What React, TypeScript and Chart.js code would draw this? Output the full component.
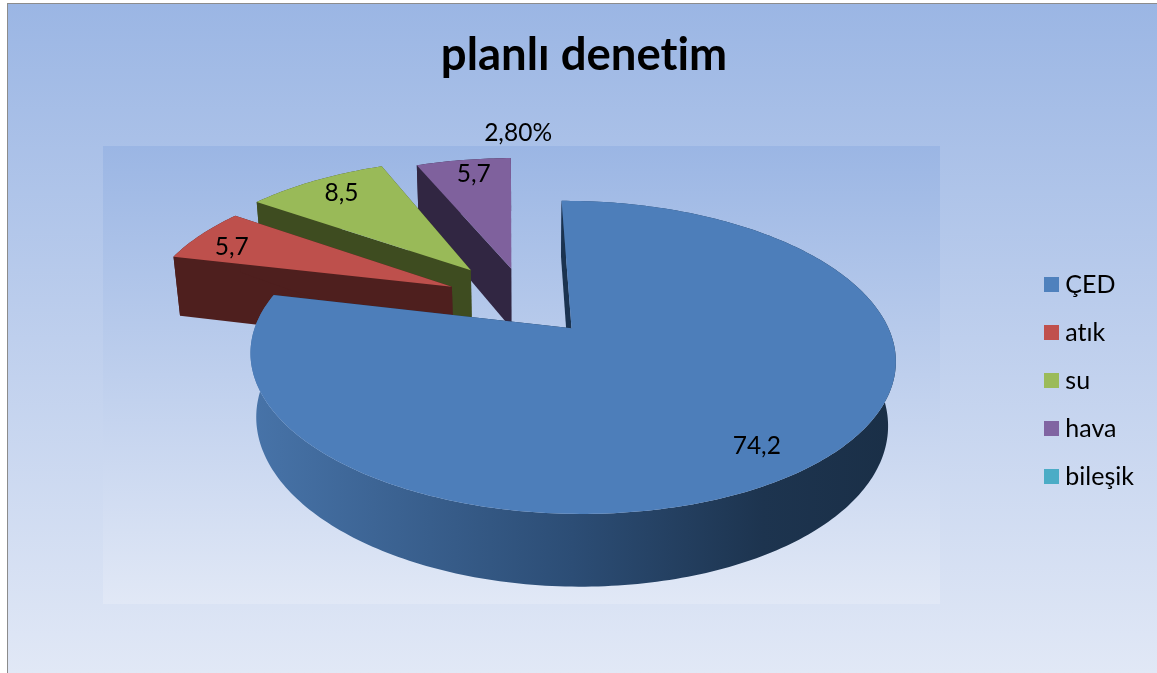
import React, { useEffect, useRef } from "react";
import { Chart, registerables } from "chart.js";

Chart.register(...registerables);

const categories = ["ÇED", "atık", "su", "hava", "bileşik"];
const values = [74.2, 5.7, 8.5, 5.7, 2.8];
const valueLabels = ["74,2", "5,7", "8,5", "5,7", "2,80%"];
const sliceColors = ["#4D7EBA", "#BE504C", "#99BA58", "#7F619D", "#4BACC6"];
const legendColors = ["#4F81BD", "#C0504D", "#9BBB59", "#8064A2", "#4BACC6"];
const wallColors = ["#1B3350", "#4E1F1E", "#3E4C20", "#312642", "#2A6475"];
const explode = [0.23, 0.27, 0.3, 0.25, 0];
const labelReach = [0.8, 0.87, 0.8, 0.8, 1.56];
const labelNudge = [
  [0, 11],
  [0, 6],
  [-2, -4],
  [2, -5],
  [-4, 3],
];
const drawOrder = [3, 2, 1, 0];

const WIDTH = 1157;
const HEIGHT = 673;

// Tilted-plane projection of the pie: y is depth across the disc, z is 0 on
// the top face and 1 on the underside.
const view = { cx: 526, cy: 302, a: 306.7, b: 141.5, k: 0.18, thick: 63, sink: 0.02 };

function project(x: number, y: number, z: number): [number, number] {
  const w = 1 + view.k * y + view.sink * z;
  return [view.cx + (view.a * x) / w, view.cy + (-view.b * y + view.thick * z) / w];
}

function fillPolygon(ctx: CanvasRenderingContext2D, pts: [number, number][], fill: string | CanvasGradient) {
  ctx.beginPath();
  pts.forEach(([px, py], i) => (i ? ctx.lineTo(px, py) : ctx.moveTo(px, py)));
  ctx.closePath();
  ctx.fillStyle = fill;
  ctx.fill();
}

function sliceAngles(arc: any) {
  const { startAngle, endAngle } = arc.getProps(["startAngle", "endAngle"], true);
  return { from: startAngle + Math.PI / 2, to: endAngle + Math.PI / 2 };
}

function explodedCentre(from: number, to: number, amount: number) {
  const mid = (from + to) / 2;
  return [amount * Math.sin(mid), amount * Math.cos(mid)];
}

const pie3d = {
  id: "pie3d",
  beforeDraw(chart: any) {
    const { ctx } = chart;
    // A hair of tracking keeps "ti" as two separate letters.
    (ctx as any).letterSpacing = "0.01px";
    const panel = (x: number, y: number, w: number, h: number) => {
      const g = ctx.createLinearGradient(0, y, 0, y + h);
      g.addColorStop(0, "#9BB6E4");
      g.addColorStop(1, "#E1E8F6");
      ctx.fillStyle = g;
      ctx.fillRect(x, y, w, h);
    };
    ctx.save();
    ctx.fillStyle = "#FFFFFF";
    ctx.fillRect(0, 0, WIDTH, HEIGHT);
    panel(8, 4, WIDTH - 8, HEIGHT - 4);
    panel(103, 146, 837, 458);
    ctx.fillStyle = "#8C8C8C";
    ctx.fillRect(7, 3, WIDTH - 7, 1);
    ctx.fillRect(7, 3, 1, HEIGHT - 3);
    ctx.restore();
  },
  beforeDatasetDraw(chart: any, args: any) {
    const { ctx } = chart;
    const arcs = chart.getDatasetMeta(args.index).data;
    ctx.save();
    for (const i of drawOrder) {
      const { from, to } = sliceAngles(arcs[i]);
      if (to - from <= 0) continue;
      const [ox, oy] = explodedCentre(from, to, explode[i]);
      const rim = (z: number) => {
        const pts: [number, number][] = [];
        const steps = Math.ceil(((to - from) * 180) / Math.PI);
        for (let s = 0; s <= steps; s++) {
          const t = from + ((to - from) * s) / steps;
          pts.push(project(ox + Math.sin(t), oy + Math.cos(t), z));
        }
        return pts;
      };
      const topRim = rim(0);
      const lowRim = rim(1);
      const apexTop = project(ox, oy, 0);
      const apexLow = project(ox, oy, 1);

      // Outer wall, shaded left to right on the large slice.
      let wall: string | CanvasGradient = wallColors[i];
      if (i === 0) {
        const g = ctx.createLinearGradient(255, 0, 890, 0);
        g.addColorStop(0, "#4773A8");
        g.addColorStop(0.5, "#2C4D75");
        g.addColorStop(0.8, "#1D344F");
        g.addColorStop(1, "#1A2F47");
        wall = g;
      }
      fillPolygon(ctx, [...topRim, ...lowRim.slice().reverse()], wall);

      // Cut faces on both radial edges.
      const n = topRim.length - 1;
      fillPolygon(ctx, [apexTop, topRim[0], lowRim[0], apexLow], wallColors[i]);
      fillPolygon(ctx, [apexTop, topRim[n], lowRim[n], apexLow], wallColors[i]);

      fillPolygon(ctx, [apexTop, ...topRim], sliceColors[i]);
    }
    ctx.restore();
    return false;
  },
  afterDatasetsDraw(chart: any) {
    const { ctx } = chart;
    const arcs = chart.getDatasetMeta(0).data;
    ctx.save();
    ctx.font = "24.5px Lato";
    ctx.fillStyle = "#000000";
    ctx.textAlign = "center";
    ctx.textBaseline = "middle";
    valueLabels.forEach((text, i) => {
      const { from, to } = sliceAngles(arcs[i]);
      const [ox, oy] = explodedCentre(from, to, explode[i]);
      const mid = (from + to) / 2;
      const reach = labelReach[i];
      const [x, y] = project(ox + reach * Math.sin(mid), oy + reach * Math.cos(mid), 0);
      ctx.fillText(text, x + labelNudge[i][0], y + labelNudge[i][1]);
    });
    ctx.restore();
  },
};

function swatch(color: string) {
  const c = document.createElement("canvas");
  c.width = 15;
  c.height = 15;
  const g = c.getContext("2d")!;
  g.fillStyle = color;
  g.fillRect(0, 0, 15, 15);
  return c;
}

export default function App() {
  const ref = useRef<HTMLCanvasElement>(null);

  useEffect(() => {
    const chart = new Chart(ref.current!, {
      type: "pie",
      data: {
        labels: categories,
        datasets: [{ data: values, backgroundColor: sliceColors, borderWidth: 0 }],
      },
      plugins: [pie3d],
      options: {
        animation: false,
        responsive: false,
        maintainAspectRatio: false,
        rotation: -0.6,
        layout: { padding: { left: 24, right: 13, top: 0, bottom: -88 } },
        plugins: {
          tooltip: { enabled: false },
          title: {
            display: true,
            text: "planlı denetim",
            color: "#000000",
            font: { family: "Lato", size: 45.5, weight: "bold" },
            padding: { top: 28, bottom: 28 },
          },
          legend: {
            display: true,
            position: "right",
            labels: {
              color: "#000000",
              font: { family: "Lato", size: 25 },
              padding: 23,
              usePointStyle: true,
              pointStyleWidth: 3,
              boxHeight: 15,
              generateLabels: () =>
                categories.map((text, index) => ({
                  text,
                  index,
                  hidden: false,
                  fontColor: "#000000",
                  fillStyle: legendColors[index],
                  lineWidth: 0,
                  pointStyle: swatch(legendColors[index]),
                })),
            },
          },
        },
      } as any,
    });
    // The last category keeps its legend entry and label but takes no share of the disc.
    chart.toggleDataVisibility(4);
    chart.update();
    return () => chart.destroy();
  }, []);

  return (
    <div style={{ position: "fixed", left: 0, top: 0, width: WIDTH, height: HEIGHT }}>
      <canvas ref={ref} width={WIDTH} height={HEIGHT} style={{ display: "block" }} />
    </div>
  );
}
